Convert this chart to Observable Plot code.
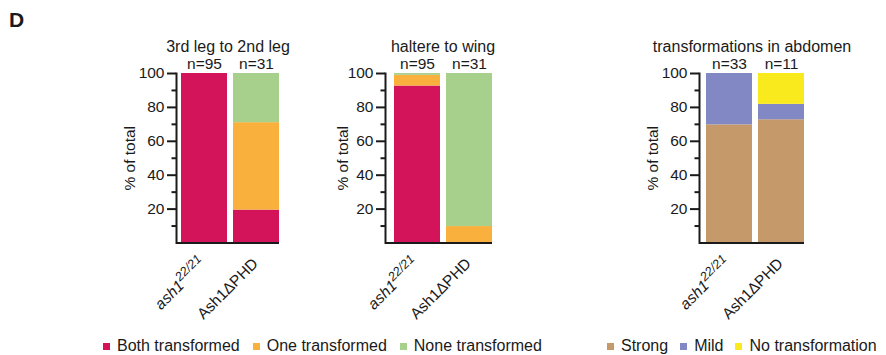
<!DOCTYPE html>
<html><head><meta charset="utf-8">
<script src="https://cdn.jsdelivr.net/npm/d3@7"></script>
<script src="https://cdn.jsdelivr.net/npm/@observablehq/plot@0.6"></script>
<style>
body{margin:0;background:#fff;font-family:"Liberation Sans",Arial,sans-serif;color:#1a1a1a;}
#wrap{position:relative;width:886px;height:355px;overflow:hidden;background:#fff;}
#wrap svg{position:absolute;left:0;top:0;}
.panelLetter{position:absolute;left:9px;top:8px;font-size:21px;font-weight:bold;line-height:24px;}
.legend{position:absolute;top:337px;display:flex;align-items:center;font-size:16px;line-height:18px;white-space:nowrap;}
.legend .item{display:flex;align-items:center;}
.legend .sw{width:7px;height:7px;margin-right:7px;}
</style></head><body><div id="wrap"><div class="panelLetter">D</div></div>
<script>
// genotypes (x categories)
const genotypes = ["ash1", "Ash1\u0394PHD"];
const genotypeSup = ["22/21", ""];
const genotypeItalic = [true, false];

// panel titles
const titles = ["3rd leg to 2nd leg", "haltere to wing", "transformations in abdomen"];

// categories and colours
const legCats = ["Both transformed", "One transformed", "None transformed"];
const legColors = ["#d4145a", "#f9b03d", "#a8d08d"];
const abdCats = ["Strong", "Mild", "No transformation"];
const abdColors = ["#c6996a", "#8288c4", "#f8ea1d"];

// sample sizes
const nLeg = [95, 31];
const nHal = [95, 31];
const nAbd = [33, 11];

// % of total, [ash1 22/21, Ash1dPHD]
const legBoth = [100, 19.4];
const legOne = [0, 51.6];
const legNone = [0, 29.0];
const halBoth = [92.6, 0];
const halOne = [6.3, 9.7];
const halNone = [1.1, 90.3];
const abdStrong = [69.7, 72.7];
const abdMild = [30.3, 9.1];
const abdNo = [0, 18.2];

const W = 886, H = 355;
const wrap = document.getElementById("wrap");

function panel(o) {
  const data = [];
  o.series.forEach((vals, i) => vals.forEach((v, j) => data.push({g: genotypes[j], cat: o.cats[i], v})));
  const nData = genotypes.map((g, j) => ({g, label: "n=" + o.n[j], top: d3.sum(o.series, s => s[j])}));
  const svg = Plot.plot({
    width: W, height: H,
    marginLeft: o.left, marginRight: W - o.right, marginTop: 73, marginBottom: H - 242.5,
    style: {background: "transparent", fontFamily: "Liberation Sans, Arial, sans-serif", fontSize: "15px", color: "#1a1a1a", overflow: "visible"},
    x: {domain: genotypes, paddingInner: 0.12, paddingOuter: o.po, align: 1, axis: null},
    y: {domain: [0, 100], axis: null},
    color: {domain: o.cats, range: o.colors},
    marks: [
      Plot.barY(data, {x: "g", y: "v", fill: "cat"}),
      Plot.axisY({ticks: [20, 40, 60, 80, 100], tickSize: 9, tickPadding: 3, strokeWidth: 2, fontSize: 15.5,
        label: "% of total", labelAnchor: "center", labelOffset: o.labelOffset, labelArrow: "none"}),
      Plot.axisY({ticks: [10, 30, 50, 70, 90], tickSize: 4.5, tickFormat: () => "", strokeWidth: 2, label: null}),
      Plot.axisX({tickSize: 0, tickRotate: -45, tickPadding: 18, dx: -1, fontSize: 15.5, label: null}),
      Plot.ruleY([0], {strokeWidth: 2}),
      Plot.frame({anchor: "left", strokeWidth: 2}),
      Plot.text(nData, {x: "g", y: "top", text: "label", dy: -5, lineAnchor: "bottom", fontSize: 15.5}),
      Plot.text([o.title], {frameAnchor: "top", dy: -22, dx: o.titleDx || 0, lineAnchor: "bottom", fontSize: 16})
    ]
  });
  // italic + superscript genotype label
  d3.select(svg).selectAll('g[aria-label="x-axis tick label"] text').each(function () {
    const t = d3.select(this);
    const txt = t.text();
    const j = genotypes.indexOf(txt);
    if (j < 0) return;
    t.text("");
    const a = t.append("tspan").text(txt);
    if (genotypeItalic[j]) a.attr("font-style", "italic");
    if (genotypeSup[j]) {
      t.append("tspan").text(genotypeSup[j]).attr("font-style", "italic")
        .attr("font-size", "12.5px").attr("baseline-shift", "super");
    }
  });
  wrap.appendChild(svg);
}

panel({series: [legBoth, legOne, legNone], cats: legCats, colors: legColors, n: nLeg, title: titles[0],
  left: 176, right: 279, po: 0.048, labelOffset: 53});
panel({series: [halBoth, halOne, halNone], cats: legCats, colors: legColors, n: nHal, title: titles[1],
  left: 385, right: 492, po: 0.075, labelOffset: 49, titleDx: 4});
panel({series: [abdStrong, abdMild, abdNo], cats: abdCats, colors: abdColors, n: nAbd, title: titles[2],
  left: 699, right: 804, po: 0.067, labelOffset: 53});

function legend(cats, colors, left, gap) {
  const div = document.createElement("div");
  div.className = "legend";
  div.style.left = left + "px";
  cats.forEach((c, i) => {
    const it = document.createElement("div");
    it.className = "item";
    if (i > 0) it.style.marginLeft = gap + "px";
    const sw = document.createElement("div");
    sw.className = "sw";
    sw.style.background = colors[i];
    const tx = document.createElement("span");
    tx.textContent = c;
    it.appendChild(sw); it.appendChild(tx);
    div.appendChild(it);
  });
  wrap.appendChild(div);
}
legend(legCats, legColors, 103, 13);
legend(abdCats, abdColors, 607, 12);
</script></body></html>
